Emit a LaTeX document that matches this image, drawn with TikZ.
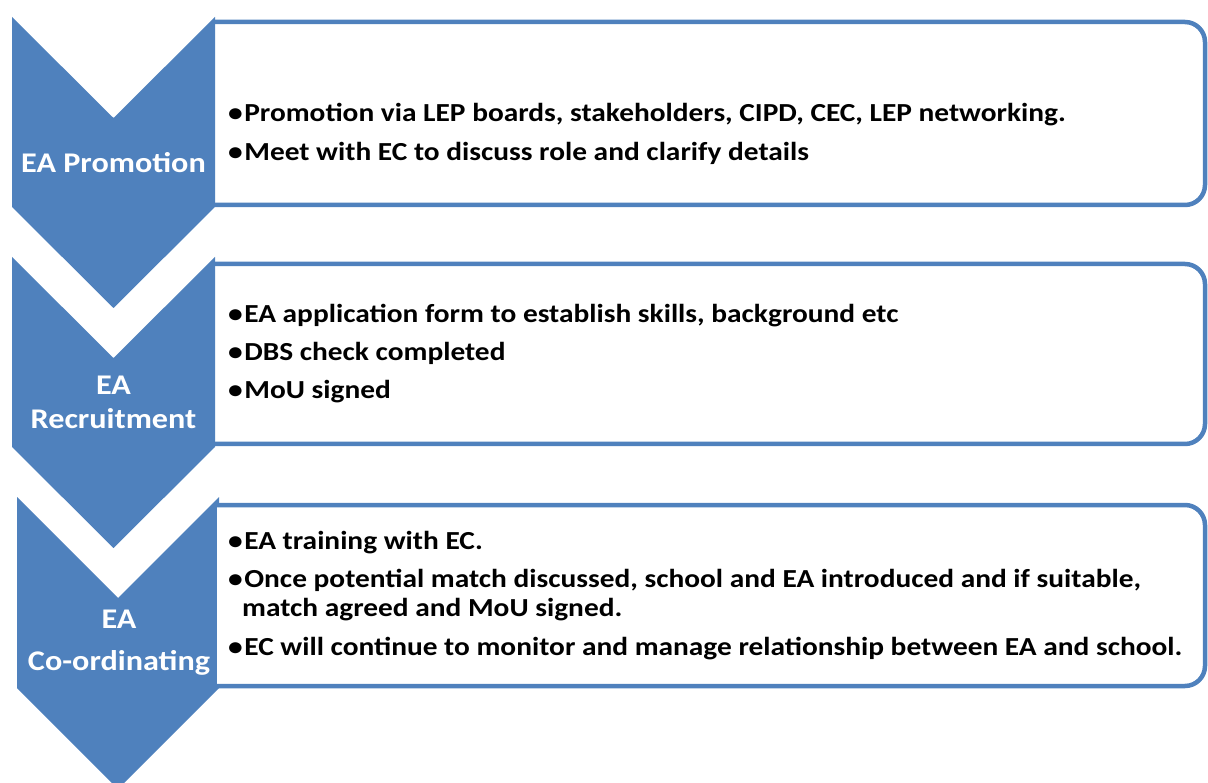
\documentclass[tikz,border=0pt]{standalone}
\usepackage{fontspec}
\setmainfont{Carlito}
\newfontfamily\wideitem[FakeStretch=1.13]{Carlito}
\newfontfamily\widelabel[FakeStretch=1.13]{Carlito}
\newcommand\bul{•\kern1.5pt}
\definecolor{chev}{HTML}{4F81BD}
\begin{document}
\begin{tikzpicture}[x=1pt,y=-1pt,
  chevron/.style={fill=chev},
  stepbox/.style={fill=white,draw=chev,line width=4.5pt,rounded corners=20pt},
  item/.style={anchor=base west,inner sep=0pt,font=\wideitem\fontsize{26}{30}\selectfont\bfseries},
  chevtext/.style={anchor=base,inner sep=0pt,text=white,font=\widelabel\fontsize{28.5}{34}\selectfont\bfseries}]
\useasboundingbox (0,0) rectangle (1208,783);
\clip (0,0) rectangle (1208,783);
% step 1
\path[stepbox] (215,22) -- (1205,22) -- (1205,205) -- (215,205);
\fill[chevron] (12,17) -- (113.5,118) -- (215,17) -- (215,207) -- (113.5,308) -- (12,207) -- cycle;
% step 2
\path[stepbox] (215,264) -- (1205,264) -- (1205,444) -- (215,444);
\fill[chevron] (12,257) -- (113.5,358) -- (215,257) -- (215,447) -- (113.5,548) -- (12,447) -- cycle;
% step 3
\fill[chevron] (17,497) -- (118,598) -- (219,497) -- (219,688) -- (118,789) -- (17,688) -- cycle;
\path[stepbox] (215,505) -- (1205,505) -- (1205,686) -- (215,686);
\draw[chev,line width=3pt] (215,505) -- (215,686);
% labels
\node[chevtext] (l1) at (113.5,173) {EA Promotion};
\node[chevtext] (l2a) at (113.5,395) {EA};
\node[chevtext] (l2b) at (113.5,429) {Recruitment};
\node[chevtext] (l3a) at (119,628) {EA};
\node[chevtext] (l3b) at (119,670) {Co-ordinating};
% items
\node[item] (a1) at (228,122) {\bul Promotion via LEP boards, stakeholders, CIPD, CEC, LEP networking.};
\node[item] (a2) at (228,161) {\bul Meet with EC to discuss role and clarify details};
\node[item] (b1) at (228,323) {\bul EA application form to establish skills, background etc};
\node[item] (b2) at (228,361) {\bul DBS check completed};
\node[item] (b3) at (228,399) {\bul MoU signed};
\node[item] (c1) at (228,549) {\bul EA training with EC.};
\node[item] (c2) at (228,587) {\bul Once potential match discussed, school and EA introduced and if suitable,};
\node[item] (c2b) at (242,616) {match agreed and MoU signed.};
\node[item] (c3) at (228,655) {\bul EC will continue to monitor and manage relationship between EA and school.};
\end{tikzpicture}
\end{document}
